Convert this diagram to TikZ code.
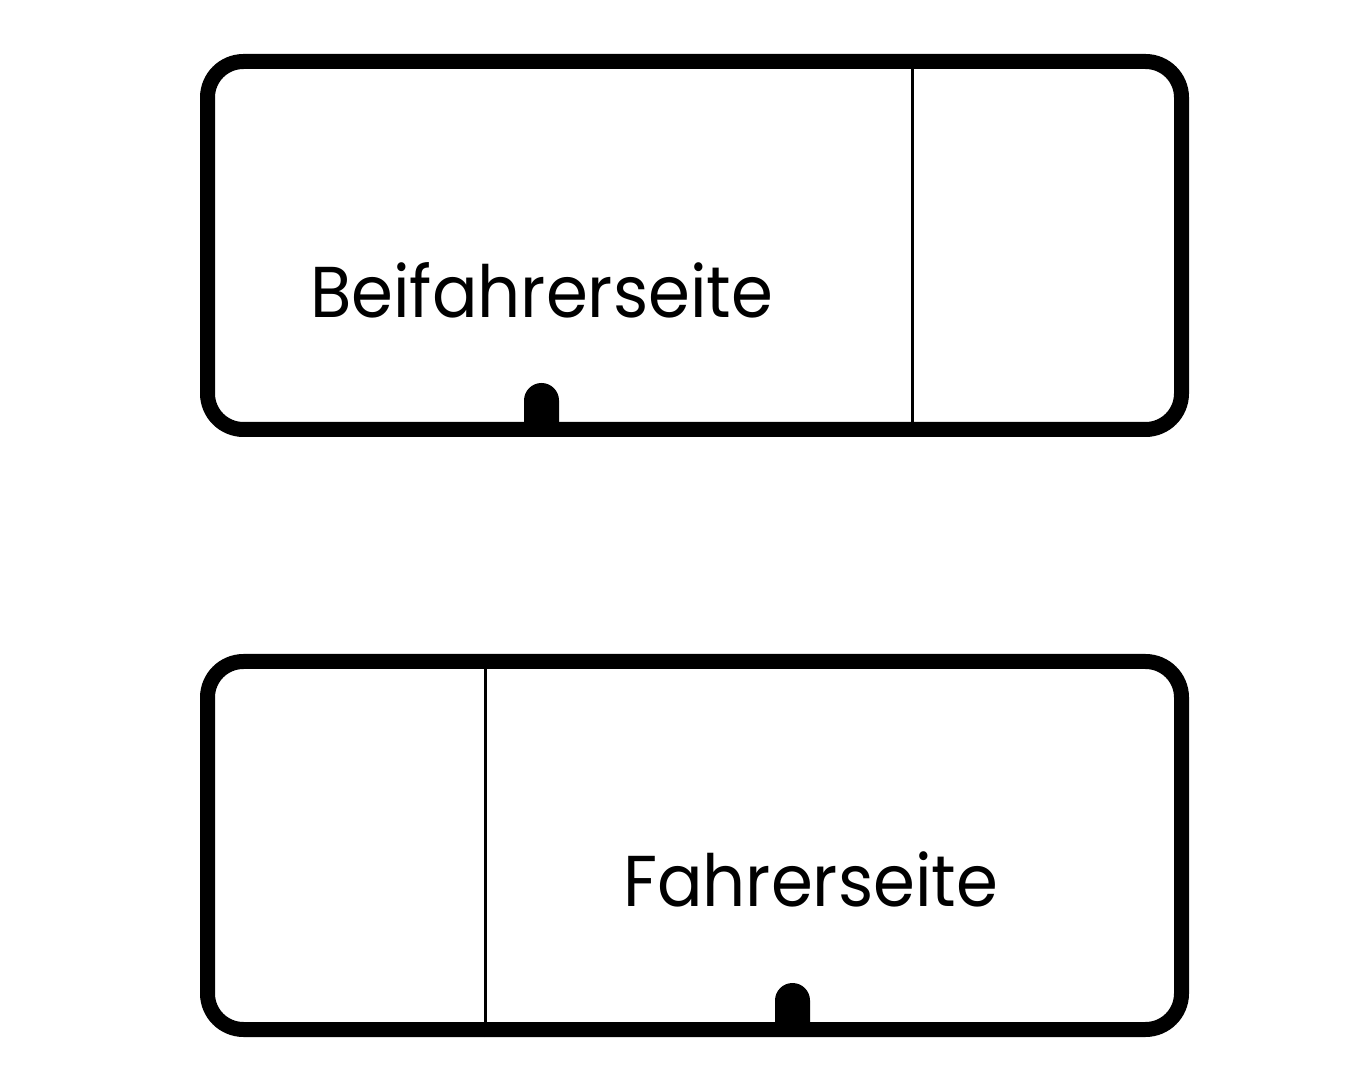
\documentclass[tikz,border=0pt]{standalone}
\usepackage{fontspec}
\setmainfont{Poppins}
\begin{document}
\begin{tikzpicture}[x=1pt,y=1pt,
  frame/.style={line width=15pt,rounded corners=36pt},
  divider/.style={line width=3pt},
  lbl/.style={anchor=base west,inner sep=0pt,xscale=0.937,font=\fontsize{72}{80}\selectfont}]
\useasboundingbox (0,0) rectangle (1350,1080);
% top box
\draw[frame] (207.5,650.5) rectangle (1181.5,1018.5);
\draw[divider] (912,643) -- (912,1026);
\fill (524,650.5) -- (524,679.5) arc[start angle=180,end angle=0,radius=17.5pt] -- (559,650.5) -- cycle;
\node[lbl] (beif) at (310,762) {Beifahrerseite};
% bottom box
\draw[frame] (207.5,50.5) rectangle (1181.5,418.5);
\draw[divider] (485,43) -- (485,426);
\fill (775,50.5) -- (775,79.5) arc[start angle=180,end angle=0,radius=17.5pt] -- (810,50.5) -- cycle;
\node[lbl] (fahr) at (623,174) {Fahrerseite};
\end{tikzpicture}
\end{document}
